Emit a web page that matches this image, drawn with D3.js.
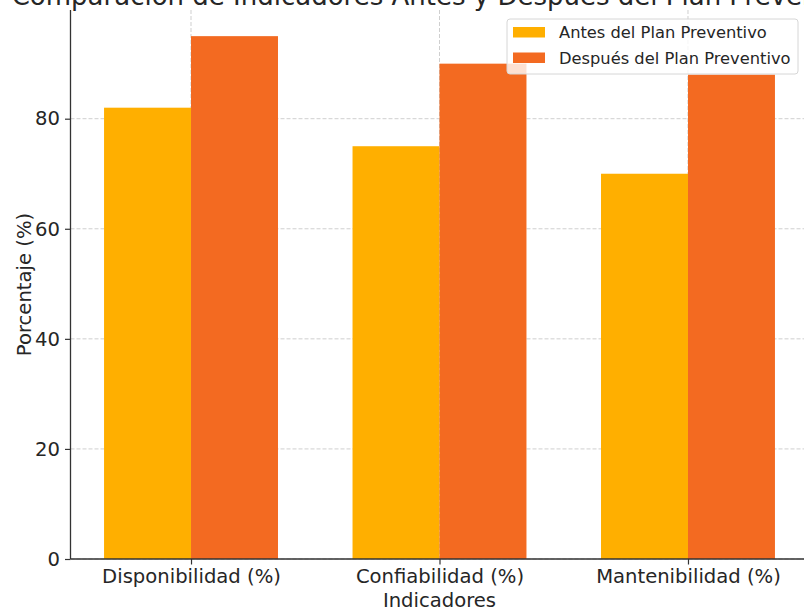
<!DOCTYPE html>
<html>
<head>
<meta charset="utf-8">
<script src="https://cdn.jsdelivr.net/npm/d3@7"></script>
<style>
  html, body { margin: 0; padding: 0; background: #fff; }
  svg { display: block; font-family: "DejaVu Sans", sans-serif; }
</style>
</head>
<body>
<svg id="chart" width="804" height="613"></svg>
<script>
// Indicadores comparados antes y después del plan de mantenimiento preventivo
const categories = ["Disponibilidad (%)", "Confiabilidad (%)", "Mantenibilidad (%)"];
const seriesNames = ["Antes del Plan Preventivo", "Después del Plan Preventivo"];
const antes = [82, 75, 70];
const despues = [95, 90, 88];
const yTicks = [0, 20, 40, 60, 80];
const colors = ["#FFAF00", "#F36A21"];

const title = "Comparación de Indicadores Antes y Después del Plan Preventivo";
const xLabel = "Indicadores";
const yLabel = "Porcentaje (%)";

const svg = d3.select("#chart");
const plot = { left: 70.5, right: 808.5, top: 10, bottom: 559 };
const barW = 0.35;

// category index scale with the usual 5% margins around the bars
const x = d3.scaleLinear()
  .domain([-barW - 0.135, categories.length - 1 + barW + 0.135])
  .range([plot.left, plot.right]);
const yMax = d3.max(despues.concat(antes)) * 1.05;
const y = d3.scaleLinear().domain([0, yMax]).range([plot.bottom, plot.top]);

const gridColor = "#cfcfcf";
const axisColor = "#333";
const textColor = "#262626";

// grid
const grid = svg.append("g");
grid.selectAll("line.h").data(yTicks).join("line")
  .attr("x1", plot.left).attr("x2", plot.right)
  .attr("y1", d => y(d)).attr("y2", d => y(d))
  .attr("stroke", gridColor).attr("stroke-width", 1)
  .attr("stroke-dasharray", "4,2");
grid.selectAll("line.v").data(categories.map((c, i) => i)).join("line")
  .attr("x1", d => x(d)).attr("x2", d => x(d))
  .attr("y1", plot.top).attr("y2", plot.bottom)
  .attr("stroke", gridColor).attr("stroke-width", 1)
  .attr("stroke-dasharray", "4,2");

// bars
const series = [antes, despues];
series.forEach((vals, s) => {
  svg.append("g").selectAll("rect").data(vals).join("rect")
    .attr("x", (d, i) => x(i + (s === 0 ? -barW : 0)))
    .attr("width", (d, i) => x(i + barW) - x(i))
    .attr("y", d => y(d))
    .attr("height", d => y(0) - y(d))
    .attr("fill", colors[s]);
});

// axes
const yAxis = d3.axisLeft(y).tickValues(yTicks).tickSize(5.5).tickPadding(5);
const gy = svg.append("g").attr("transform", `translate(${plot.left},0)`).call(yAxis);
gy.select(".domain").remove();
gy.selectAll(".tick line").attr("stroke", axisColor).attr("stroke-width", 1.2);
gy.selectAll(".tick text").attr("fill", textColor)
  .attr("font-size", 19.6).attr("font-family", "DejaVu Sans");

const xAxis = d3.axisBottom(x).tickValues(categories.map((c, i) => i))
  .tickFormat(i => categories[i]).tickSize(5.5).tickPadding(5);
const gx = svg.append("g").attr("transform", `translate(0,${plot.bottom})`).call(xAxis);
gx.select(".domain").remove();
gx.selectAll(".tick line").attr("stroke", axisColor).attr("stroke-width", 1.2);
gx.selectAll(".tick text").attr("fill", textColor)
  .attr("font-size", 19.6).attr("font-family", "DejaVu Sans");

// spines (left and bottom)
svg.append("line").attr("x1", plot.left).attr("x2", plot.left)
  .attr("y1", plot.top).attr("y2", plot.bottom)
  .attr("stroke", axisColor).attr("stroke-width", 1.3);
svg.append("line").attr("x1", plot.left).attr("x2", plot.right)
  .attr("y1", plot.bottom).attr("y2", plot.bottom)
  .attr("stroke", axisColor).attr("stroke-width", 1.3);

// labels
svg.append("text").attr("x", (plot.left + plot.right) / 2).attr("y", 607)
  .attr("text-anchor", "middle").attr("font-size", 19.6).attr("fill", textColor)
  .text(xLabel);
svg.append("text")
  .attr("transform", `translate(31,${(plot.top + plot.bottom) / 2}) rotate(-90)`)
  .attr("text-anchor", "middle").attr("font-size", 19.6).attr("fill", textColor)
  .text(yLabel);
svg.append("text").attr("x", (plot.left + plot.right) / 2).attr("y", 5)
  .attr("text-anchor", "middle").attr("font-size", 26).attr("fill", textColor)
  .text(title);

// legend
const lg = svg.append("g").attr("transform", "translate(507,19)");
lg.append("rect").attr("width", 291).attr("height", 55).attr("rx", 3)
  .attr("fill", "#fff").attr("fill-opacity", 0.8)
  .attr("stroke", "#d6d6d6").attr("stroke-width", 1);
seriesNames.forEach((name, i) => {
  lg.append("rect").attr("x", 6).attr("y", 8 + i * 25.5).attr("width", 32).attr("height", 10.5)
    .attr("fill", colors[i]);
  lg.append("text").attr("x", 52).attr("y", 19 + i * 25.5)
    .attr("font-size", 16.3).attr("fill", textColor).text(name);
});
</script>
</body>
</html>
